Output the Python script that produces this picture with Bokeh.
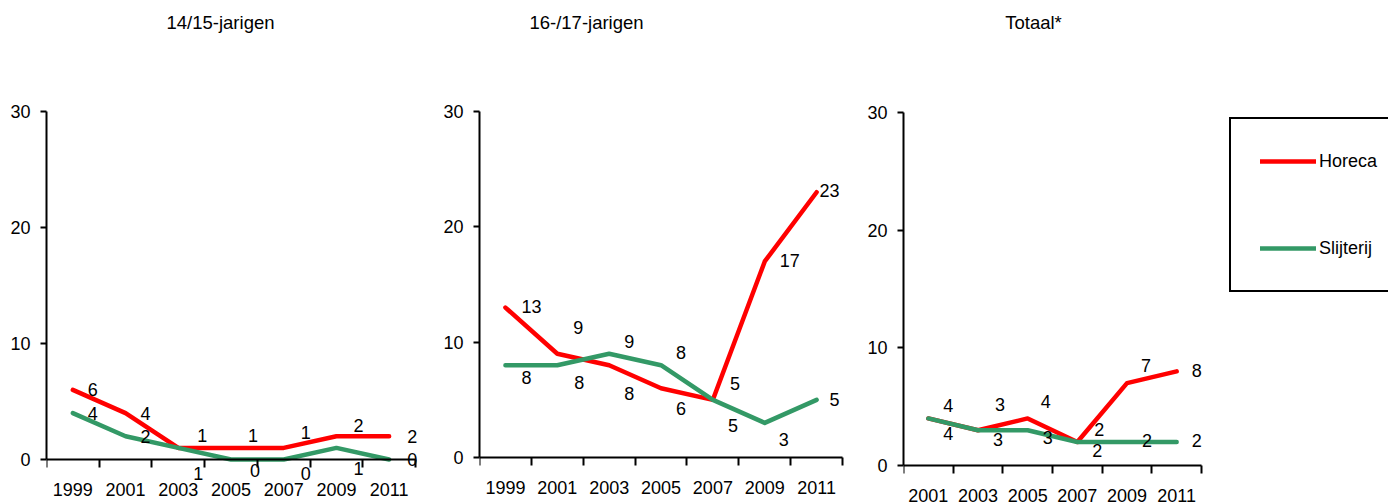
from bokeh.plotting import figure
from bokeh.layouts import row
from bokeh.models import FixedTicker, Range1d, Label, Legend, LegendItem, ColumnDataSource
from bokeh.embed import file_html
from bokeh.resources import INLINE
from bokeh.core.properties import value

# ---------------- data ----------------
years_jong = [1999, 2001, 2003, 2005, 2007, 2009, 2011]
years_totaal = [2001, 2003, 2005, 2007, 2009, 2011]

horeca_1415 = [6, 4, 1, 1, 1, 2, 2]
slijterij_1415 = [4, 2, 1, 0, 0, 1, 0]

horeca_1617 = [13, 9, 8, 6, 5, 17, 23]
slijterij_1617 = [8, 8, 9, 8, 5, 3, 5]

horeca_totaal = [4, 3, 4, 2, 7, 8]
slijterij_totaal = [4, 3, 3, 2, 2, 2]

titles = ["14/15-jarigen", "16-/17-jarigen", "Totaal*"]
series_names = ["Horeca", "Slijterij"]
y_ticks = [0, 10, 20, 30]
y_max = 30

# ---------------- styling ----------------
FONT = "Liberation Sans"
RED = "#FF0000"
GREEN = "#339966"
TICK_FS = "18px"
TITLE_FS = "18.5px"
LINE_W = 4.5
H = 504

# data label pixel offsets (dx, dy) per point
lab_1415 = dict(h_dx=[20, 20, 24, 22, 22, 22, 23], h_dy=[0, 0, -12, -12, -15, -11, 0],
                s_dx=[20, 20, 20, 24, 22, 22, 23], s_dy=[0, 0, 26, 11, 14, 21, 0])
lab_1617 = dict(h_dx=[26, 21, 20, 20, 22, 25, 13], h_dy=[-1, -26, 28, 20, -16, -1, -2],
                s_dx=[21, 22, 20, 20, 20, 19, 18], s_dy=[12, 17, -12, -13, 26, 17, 0])
lab_tot = dict(h_dx=[20, 22, 18, 22, 19, 20], h_dy=[-13, -26, -17, -12, -18, -1],
               s_dx=[20, 20, 20, 20, 20, 20], s_dy=[15, 9, 7, 9, -1, -1])


def make_panel(years, hor, sli, labs, title, width, left, plot_w, y0_px, y30_px,
               title_cx, x_standoff, legend_box=None):
    """left: frame left (canvas px); plot_w: px width of the category area;
    y0_px / y30_px: canvas px of value 0 and 30."""
    n = len(years)
    xs = [i + 0.5 for i in range(n)]
    kx = plot_w / n
    ky = (y0_px - y30_px) / y_max
    frame_w = width - left
    p = figure(width=width, height=H,
               x_range=Range1d(0, frame_w / kx),
               y_range=Range1d(-(H - y0_px) / ky, y0_px / ky),
               output_backend="svg", toolbar_location=None,
               min_border_left=left, min_border_right=0, min_border_top=0, min_border_bottom=0)
    p.xgrid.visible = False
    p.ygrid.visible = False
    p.outline_line_color = None
    p.background_fill_color = "white"
    p.border_fill_color = "white"

    r_h = p.line(xs, hor, line_color=RED, line_width=LINE_W, line_cap="round", line_join="round")
    r_s = p.line(xs, sli, line_color=GREEN, line_width=LINE_W, line_cap="round", line_join="round")

    for vals, dx, dy in ((hor, labs["h_dx"], labs["h_dy"]), (sli, labs["s_dx"], labs["s_dy"])):
        src = ColumnDataSource(dict(x=xs, y=vals, t=[str(v) for v in vals], dx=dx, dy=dy))
        p.text(x="x", y="y", text="t", x_offset="dx", y_offset="dy", source=src,
               text_font=value(FONT), text_font_size=TICK_FS, text_color="black",
               text_align="center", text_baseline="middle")

    xa = p.xaxis[0]
    xa.fixed_location = 0
    xa.bounds = (0, n)
    xa.ticker = FixedTicker(ticks=xs, minor_ticks=list(range(n + 1)))
    xa.major_label_overrides = {x: str(y) for x, y in zip(xs, years)}
    xa.major_tick_out = 0
    xa.major_tick_in = 0
    xa.minor_tick_out = 8
    xa.minor_tick_in = 0
    xa.minor_tick_line_width = 2
    xa.minor_tick_line_color = "black"
    xa.axis_line_width = 2
    xa.axis_line_color = "black"
    xa.major_label_standoff = x_standoff
    xa.major_label_text_font = FONT
    xa.major_label_text_font_size = TICK_FS
    xa.major_label_text_color = "black"

    ya = p.yaxis[0]
    ya.bounds = (0, y_max)
    ya.ticker = FixedTicker(ticks=y_ticks, minor_ticks=[])
    ya.major_tick_out = 6
    ya.major_tick_in = 0
    ya.major_tick_line_width = 2
    ya.major_tick_line_color = "black"
    ya.minor_tick_out = 0
    ya.minor_tick_in = 0
    ya.axis_line_width = 2
    ya.axis_line_color = "black"
    ya.major_label_standoff = 10
    ya.major_label_text_font = FONT
    ya.major_label_text_font_size = TICK_FS
    ya.major_label_text_color = "black"

    # title (screen units from frame bottom-left)
    p.add_layout(Label(x=title_cx - left, y=H - 22, x_units="screen", y_units="screen",
                       text=title, text_font=FONT, text_font_size=TITLE_FS,
                       text_align="center", text_baseline="middle", text_color="black"))

    if legend_box is not None:
        bx, bbottom = legend_box
        legend = Legend(items=[LegendItem(label=series_names[0], renderers=[r_h]),
                               LegendItem(label=series_names[1], renderers=[r_s])],
                        location=(bx - left, H - bbottom), orientation="vertical",
                        padding=29, spacing=61, margin=0,
                        glyph_width=56, glyph_height=26, label_height=26,
                        label_standoff=3, label_text_font=FONT, label_text_font_size=TICK_FS,
                        label_text_color="black",
                        border_line_color="black", border_line_width=2, border_line_alpha=1.0,
                        background_fill_color="white", background_fill_alpha=1.0)
        p.add_layout(legend, "center")
    return p


p1 = make_panel(years_jong, horeca_1415, slijterij_1415, lab_1415, titles[0],
                width=440, left=46, plot_w=369, y0_px=459, y30_px=111,
                title_cx=220, x_standoff=15)
p2 = make_panel(years_jong, horeca_1617, slijterij_1617, lab_1617, titles[1],
                width=420, left=38, plot_w=364, y0_px=457, y30_px=111,
                title_cx=585 - 440, x_standoff=15)
p3 = make_panel(years_totaal, horeca_totaal, slijterij_totaal, lab_tot, titles[2],
                width=528, left=43, plot_w=298, y0_px=465, y30_px=112,
                title_cx=1033 - 860, x_standoff=15, legend_box=(1229 - 860, 292))

layout = row(p1, p2, p3)
open("out.html", "w").write(file_html(layout, INLINE))
